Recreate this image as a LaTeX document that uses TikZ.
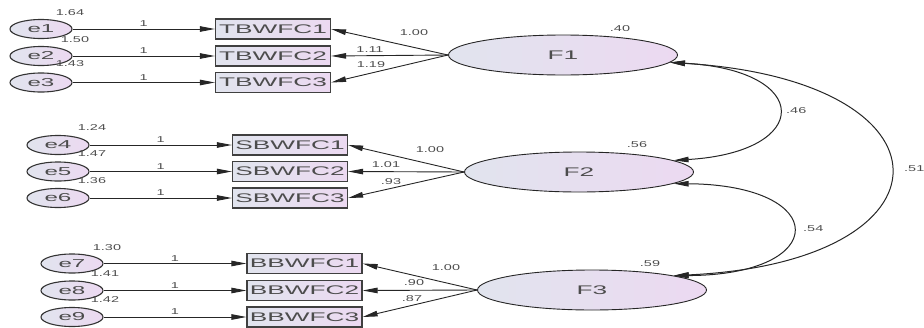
\documentclass[tikz,border=0pt]{standalone}
\usepackage{fontspec}
\setmainfont{Liberation Sans}
\usepackage{tikz}
\usetikzlibrary{arrows.meta,positioning,shapes.geometric}
\definecolor{fillL}{HTML}{E1E4EE}
\definecolor{fillR}{HTML}{ECD9F1}
\newcommand{\wtxt}[1]{\scalebox{2.1}[1]{#1}}
\newcommand{\wnum}[1]{\scalebox{1.7}[1]{#1}}

\tikzset{
  err/.style={ellipse, draw=black!80, line width=1.1pt, left color=fillL, right color=fillR,
    minimum width=62pt, minimum height=19pt, inner sep=0pt, text=black!70, font=\fontsize{11.5}{13}\selectfont},
  obs/.style={rectangle, draw=black!75, line width=1.2pt, left color=fillL, right color=fillR,
    minimum width=115pt, minimum height=20pt, inner sep=0pt, text=black!70, font=\fontsize{12.5}{14}\selectfont},
  lat/.style={ellipse, draw=black!85, line width=0.9pt, left color=fillL, right color=fillR,
    minimum width=229pt, minimum height=40pt, inner sep=0pt, text=black!70, font=\fontsize{12.5}{14}\selectfont},
  num/.style={inner sep=1pt, text=black!70, font=\fontsize{8.5}{10}\selectfont},
  path/.style={-{Triangle[length=15pt,width=5.5pt]}, line width=0.9pt, black!85},
  cov/.style={{Triangle[length=15pt,width=5.5pt]}-{Triangle[length=15pt,width=5.5pt]}, line width=1pt, black!85}
}

\begin{document}
\begin{tikzpicture}[x=1pt, y=-1pt]
\useasboundingbox (0,0) rectangle (924,327);

% latent factors
\node[lat] (F1) at (563,55) {\wtxt{F1}};
\node[lat] (F2) at (579,172) {\wtxt{F2}};
\node[lat] (F3) at (592,290) {\wtxt{F3}};

% observed indicators
\node[obs] (T1) at (273,29) {\wtxt{TBWFC1}};
\node[obs] (T2) at (273,56) {\wtxt{TBWFC2}};
\node[obs] (T3) at (273,82.5) {\wtxt{TBWFC3}};
\node[obs] (S1) at (290,145) {\wtxt{SBWFC1}};
\node[obs] (S2) at (290,171.5) {\wtxt{SBWFC2}};
\node[obs] (S3) at (290,198) {\wtxt{SBWFC3}};
\node[obs] (B1) at (304.5,263.5) {\wtxt{BBWFC1}};
\node[obs] (B2) at (304.5,290.5) {\wtxt{BBWFC2}};
\node[obs] (B3) at (304.5,317) {\wtxt{BBWFC3}};

% error terms
\node[err] (e1) at (41,29) {\wtxt{e1}};
\node[err] (e2) at (41,56) {\wtxt{e2}};
\node[err] (e3) at (41,82.5) {\wtxt{e3}};
\node[err] (e4) at (58,145) {\wtxt{e4}};
\node[err] (e5) at (58,171.5) {\wtxt{e5}};
\node[err] (e6) at (58,198) {\wtxt{e6}};
\node[err] (e7) at (72,263.5) {\wtxt{e7}};
\node[err] (e8) at (72,290.5) {\wtxt{e8}};
\node[err] (e9) at (72,317) {\wtxt{e9}};

% error paths
\foreach \e/\b in {e1/T1,e2/T2,e3/T3,e4/S1,e5/S2,e6/S3,e7/B1,e8/B2,e9/B3}
  \draw[path] (\e) -- node[num, above=1pt] {\wnum{1}} (\b);

% loadings
\foreach \f/\b in {F1/T1,F1/T2,F1/T3,F2/S1,F2/S2,F2/S3,F3/B1,F3/B2,F3/B3}
  \draw[path] (\f.west) -- (\b.east);

% covariances
\draw[cov] (F1.-4) .. controls (813,70) and (813,152) .. (F2.7);
\draw[cov] (F2.-7) .. controls (831,185) and (831,275) .. (F3.10);
\draw[cov] (F1.-4) .. controls (962,80) and (962,262) .. (F3.10);

% variances
\node[num] (v1) at (70,13) {\wnum{1.64}};
\node[num] (v2) at (75,40) {\wnum{1.50}};
\node[num] (v3) at (70,64) {\wnum{1.43}};
\node[num] (v4) at (92,128) {\wnum{1.24}};
\node[num] (v5) at (92,154) {\wnum{1.47}};
\node[num] (v6) at (92,181) {\wnum{1.36}};
\node[num] (v7) at (107,248) {\wnum{1.30}};
\node[num] (v8) at (105,274) {\wnum{1.41}};
\node[num] (v9) at (105,300) {\wnum{1.42}};
\node[num] (vF1) at (620,29) {\wnum{.40}};
\node[num] (vF2) at (637,145) {\wnum{.56}};
\node[num] (vF3) at (650,264) {\wnum{.59}};

% loading values
\node[num] (l1) at (414,33) {\wnum{1.00}};
\node[num] (l2) at (370,50) {\wnum{1.11}};
\node[num] (l3) at (371,65) {\wnum{1.19}};
\node[num] (l4) at (430,150) {\wnum{1.00}};
\node[num] (l5) at (386,165) {\wnum{1.01}};
\node[num] (l6) at (391,182) {\wnum{.93}};
\node[num] (l7) at (446,268) {\wnum{1.00}};
\node[num] (l8) at (414,283) {\wnum{.90}};
\node[num] (l9) at (412,299) {\wnum{.87}};

% covariance values
\node[num, anchor=west] (c12) at (785,111) {\wnum{.46}};
\node[num, anchor=west] (c23) at (802,229) {\wnum{.54}};
\node[num, anchor=west] (c13) at (903,169) {\wnum{.51}};
\end{tikzpicture}
\end{document}
